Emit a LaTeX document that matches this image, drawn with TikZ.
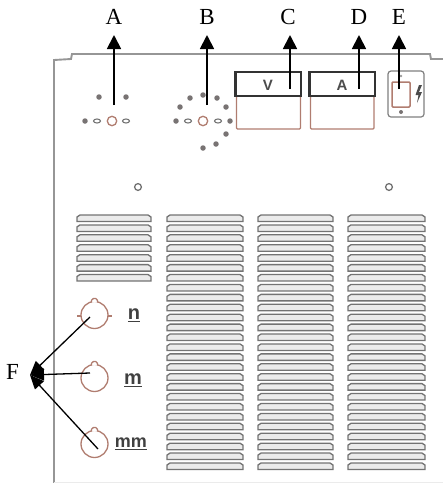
\documentclass[tikz,border=0pt]{standalone}
\usepackage{fontspec}
\setmainfont{Liberation Serif}
\newfontfamily\panelfont{Liberation Sans}
\usetikzlibrary{arrows.meta}
\definecolor{rust}{RGB}{176,125,112}
\definecolor{shell}{RGB}{150,150,150}
\definecolor{slatline}{RGB}{115,115,115}
\definecolor{dotgrey}{RGB}{120,115,115}
\tikzset{
  x=1pt,y=-1pt,
  lettertag/.style={font=\fontsize{23}{23}\selectfont,inner sep=0pt,text=black},
  pointer/.style={draw=black,line width=1.8pt,-{Triangle[length=14pt,width=14pt]}},
  fpointer/.style={draw=black,line width=1.3pt,-{Triangle[length=14pt,width=12pt]}},
  pdot/.style={circle,fill=dotgrey,minimum size=5.5pt,inner sep=0pt},
  poval/.style={draw=slatline,line width=1.1pt},
  ring/.style={draw=rust,line width=1.3pt},
  slat/.style={draw=slatline,line width=1.3pt,fill=black!8},
  dialtag/.style={font=\panelfont\bfseries\fontsize{15}{15}\selectfont,text=black!70,inner sep=0pt},
  polarity/.style={inner sep=0pt,text=black!75},
  meterhead/.style={draw=black!80,line width=2.4pt},
  meterbody/.style={draw=rust,line width=1.1pt},
}
\newcommand{\slatrow}[3]{% x0, x1, count
  \foreach \i in {1,...,#3}{
    \pgfmathsetmacro{\yy}{215+9.92*(\i-1)}
    \draw[slat] (#1,\yy+6.5) -- (#1,\yy+2) -- (#1+3,\yy) -- (#2-3,\yy) -- (#2,\yy+2) -- (#2,\yy+6.5) -- cycle;
  }}
\begin{document}
\begin{tikzpicture}
\useasboundingbox (0,0) rectangle (443,483);
% shell
\draw[shell,line width=1.9pt] (54,483) -- (54,60) -- (71,59) -- (72,54) -- (430,54) -- (431,59) -- (443,59);
\draw[black!8,line width=.8pt] (54,482) -- (443,482);
% left dial group
\node[pdot] (a1) at (85,121) {};
\node[pdot] (a2) at (99,97) {};
\node[pdot] (a3) at (126,97) {};
\draw[poval] (97,121) ellipse (3.5 and 2);
\draw[poval] (126,121) ellipse (3.5 and 2);
\draw[ring] (112,121) circle (4.7);
% right dial group
\node[pdot] at (176,121) {};
\node[pdot] at (230,121) {};
\node[pdot] at (180,107) {};
\node[pdot] at (190,98) {};
\node[pdot] at (203,95) {};
\node[pdot] at (217,98) {};
\node[pdot] at (226,107) {};
\node[pdot] at (226,134) {};
\node[pdot] at (216,144) {};
\node[pdot] at (203,148) {};
\draw[poval] (188,121) ellipse (3.5 and 2);
\draw[poval] (218,121) ellipse (3.5 and 2);
\draw[ring] (203,121) circle (4.7);
% meters
\draw[meterbody,rounded corners=1pt] (236.5,96) rectangle (300.5,129);
\draw[meterhead] (235.5,72) rectangle (301,96);
\node[dialtag] (vlab) at (268,85) {V};
\draw[meterbody,rounded corners=1pt] (310.5,96) rectangle (374,129);
\draw[meterhead] (309.5,72) rectangle (375,96);
\node[dialtag] (alab) at (342,85) {A};
% switch
\draw[black!50,line width=1.2pt,rounded corners=3pt] (388,71) rectangle (424,117);
\draw[rust,line width=1.5pt,rounded corners=1pt] (392,82) rectangle (410,107);
\fill[dotgrey] (401,112) circle (2);
\fill[black!40] (401,76) circle (1.3);
\fill[black!70] (419,85) -- (415.5,95) -- (418.5,95) -- (417,103) -- (422,92) -- (419,92) -- (422,85) -- cycle;
% screw holes
\draw[slatline,line width=1.3pt] (138,187) circle (3.4);
\draw[slatline,line width=1.3pt] (389,187) circle (3.4);
% louvres
\slatrow{77}{151}{7}
\slatrow{167}{243}{26}
\slatrow{258}{333}{26}
\slatrow{348}{425}{26}
% sockets
\draw[ring] (94.5,315) circle (13.5);
\draw[ring,fill=white] (91.5,302.6) arc (160:380:3.2);
\draw[ring] (108,316) -- (112,316) (81,316) -- (77,316);
\draw[ring] (94.5,378) circle (13.5);
\draw[ring,fill=white] (91.5,365.6) arc (160:380:3.2);
\draw[ring] (94.5,444) circle (13.5);
\draw[ring,fill=white] (91.5,431.6) arc (160:380:3.2);
\node[polarity,font=\panelfont\bfseries\fontsize{20}{20}\selectfont] (tn) at (134,315) {\underline{n}};
\node[polarity,font=\panelfont\bfseries\fontsize{20}{20}\selectfont] (tm) at (133,380) {\underline{m}};
\node[polarity,font=\panelfont\bfseries\fontsize{18}{18}\selectfont] (tmm) at (131,444) {\underline{mm}};
% letters
\node[lettertag] (A) at (114,17) {A};
\node[lettertag] (B) at (207,17) {B};
\node[lettertag] (C) at (288,17) {C};
\node[lettertag] (D) at (359,17) {D};
\node[lettertag] (E) at (399,17) {E};
\node[lettertag] (F) at (12.5,372) {F};
% arrow anchors
\coordinate (sa) at (114,105); \coordinate (ta) at (114,35);
\coordinate (sb) at (207,105); \coordinate (tb) at (207,35);
\coordinate (sc) at (290,89);  \coordinate (tc) at (290,35);
\coordinate (sd) at (359,89);  \coordinate (td) at (359,35);
\coordinate (se) at (399,89);  \coordinate (te) at (399,35);
\coordinate (tf) at (30,375);
\coordinate (s1) at (90,317); \coordinate (s2) at (90,373); \coordinate (s3) at (98,449);
\draw[pointer] (sa) -- (ta);
\draw[pointer] (sb) -- (tb);
\draw[pointer] (sc) -- (tc);
\draw[pointer] (sd) -- (td);
\draw[pointer] (se) -- (te);
\draw[fpointer] (s1) -- (tf);
\draw[fpointer] (s2) -- (tf);
\draw[fpointer] (s3) -- (tf);
\end{tikzpicture}
\end{document}
